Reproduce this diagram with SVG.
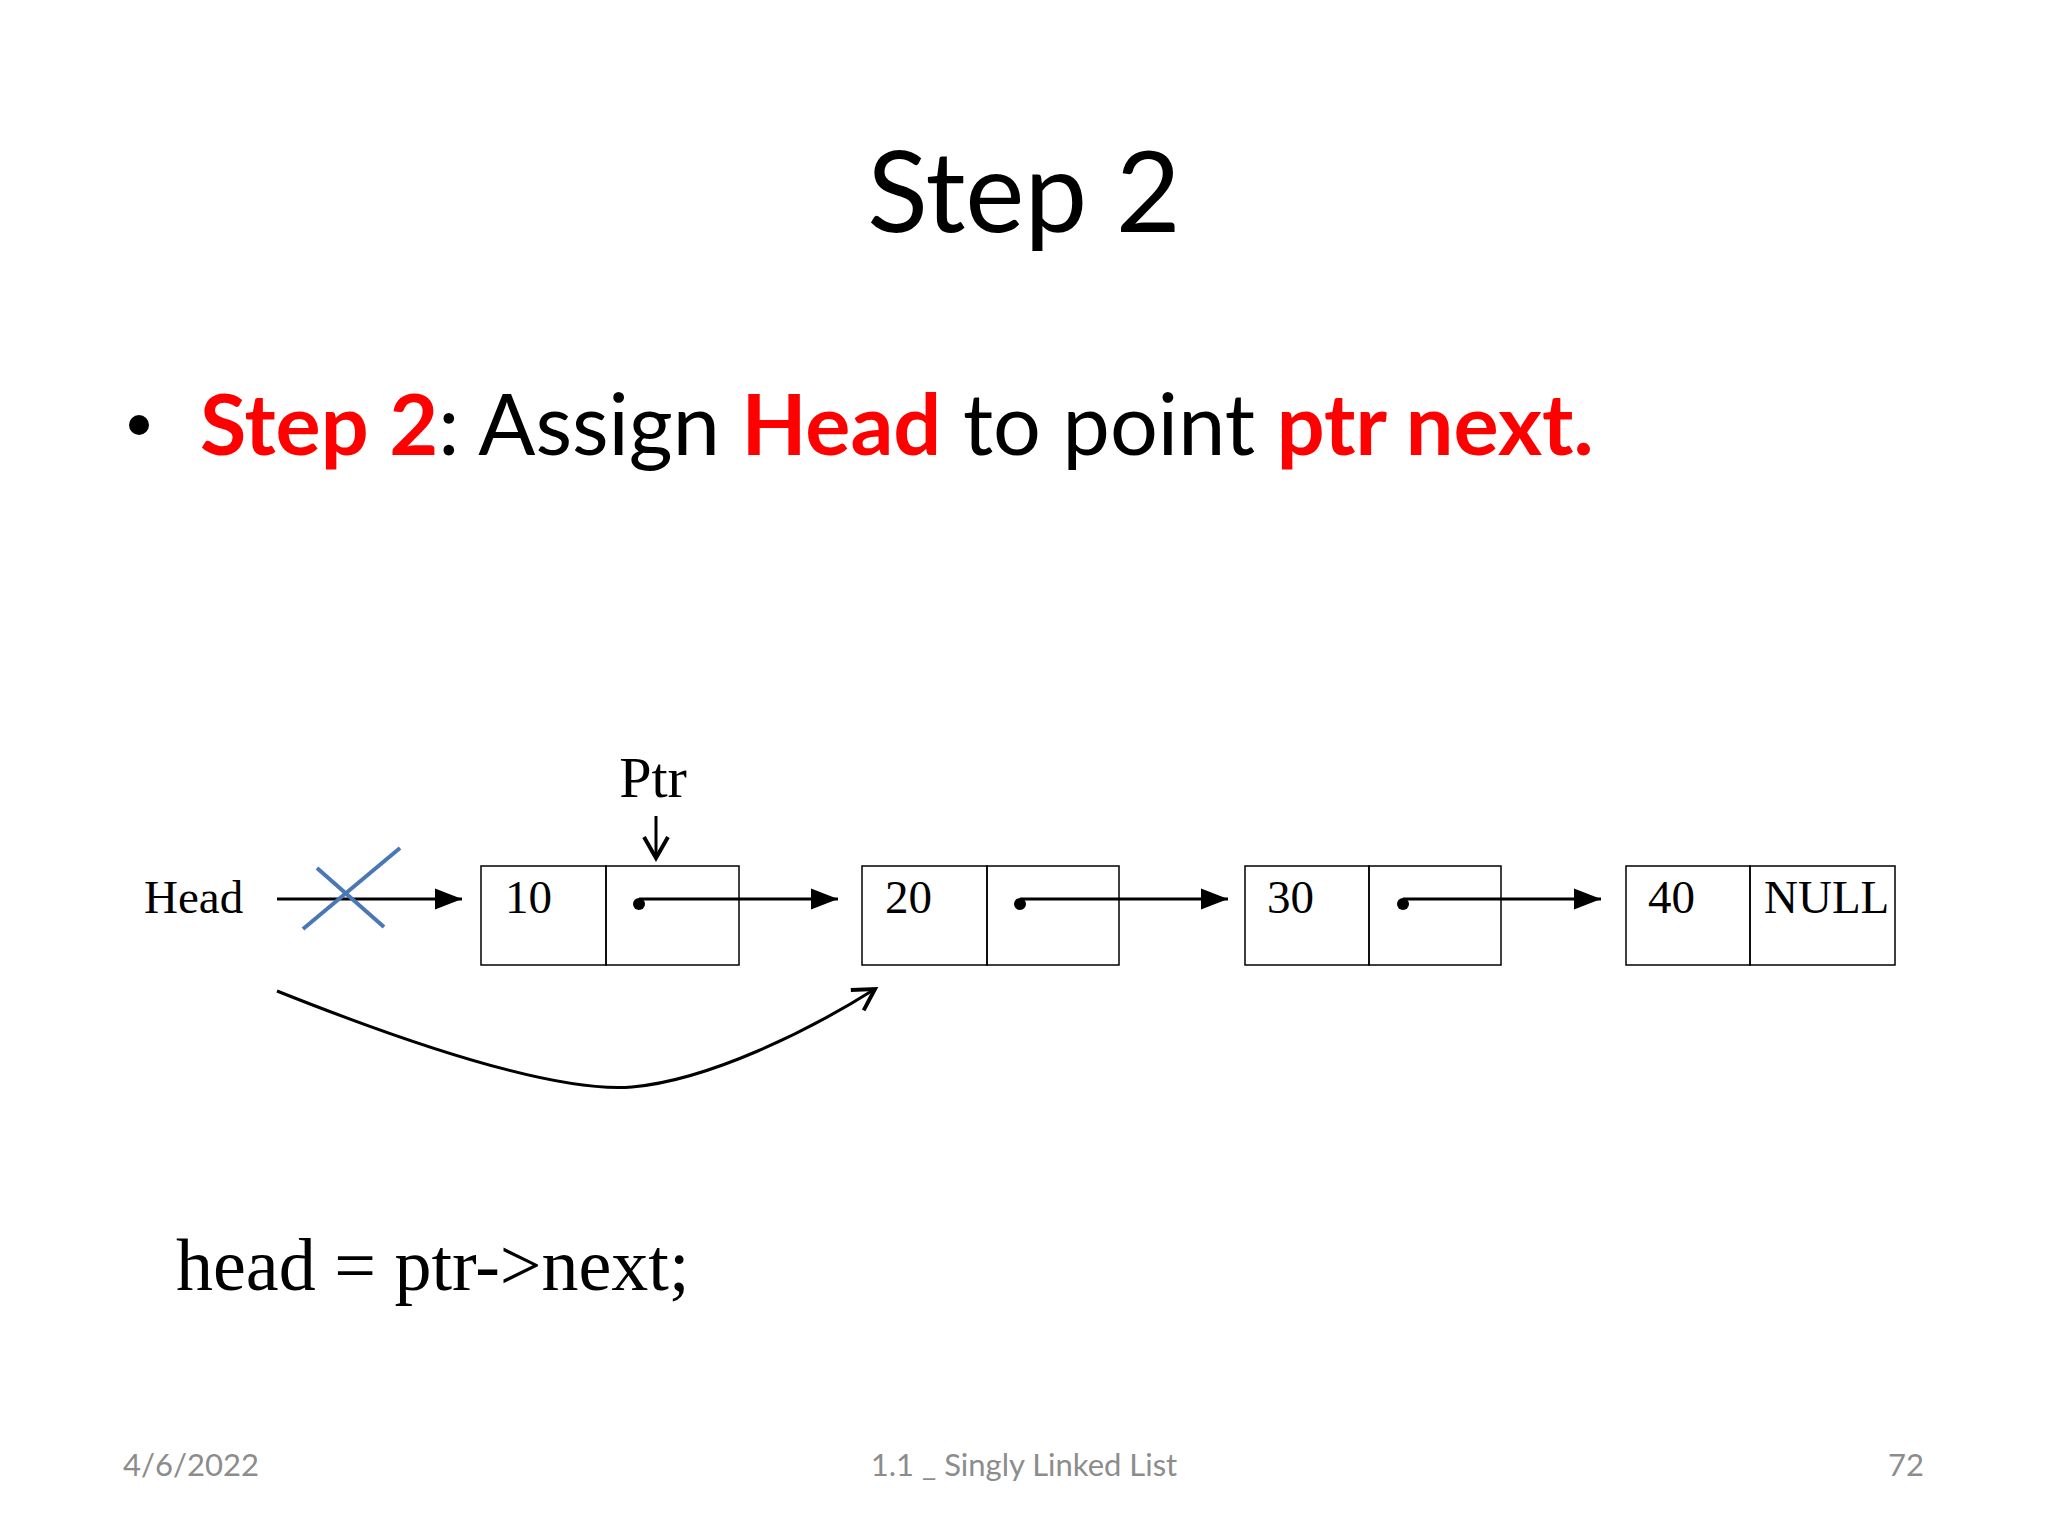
<svg xmlns="http://www.w3.org/2000/svg" width="2048" height="1536" viewBox="0 0 2048 1536">
<style>
.t{font-family:"Times New Roman","Liberation Serif",serif;fill:#000}
.c{font-family:Lato,"Open Sans",sans-serif}
.box{fill:none;stroke:#000;stroke-width:1.5}
.ln{stroke:#000;stroke-width:3;fill:none}
</style>
<defs>
<marker id="ah" markerWidth="10" markerHeight="10" refX="9" refY="5" orient="auto" markerUnits="strokeWidth"><path d="M0,1.5 L9,5 L0,8.5z" fill="#000"/></marker>
<marker id="oh" markerWidth="10" markerHeight="10" refX="8" refY="5" orient="auto" markerUnits="strokeWidth"><path d="M1,1 L8,5 L1,9" fill="none" stroke="#000" stroke-width="1.3"/></marker>
</defs>
<rect width="2048" height="1536" fill="#fff"/>
<text class="c" x="1024" y="232" font-size="112" text-anchor="middle">Step 2</text>
<circle cx="139" cy="425" r="10" fill="#000"/>
<text class="c" x="200" y="455" font-size="84.5"><tspan fill="#f00" font-weight="bold">Step 2</tspan>: Assign <tspan fill="#f00" font-weight="bold">Head</tspan> to point <tspan fill="#f00" font-weight="bold">ptr next.</tspan></text>
<g id="head"><text class="t" x="144" y="913" font-size="47">Head</text></g>
<g id="ptr"><text class="t" x="653" y="797" font-size="58" text-anchor="middle">Ptr</text></g>
<g id="n1"><rect class="box" x="481" y="866" width="125" height="99"/><rect class="box" x="606" y="866" width="133" height="99"/><text class="t" x="505" y="913" font-size="47">10</text><circle cx="639" cy="904" r="6"/></g>
<g id="n2"><rect class="box" x="862" y="866" width="125" height="99"/><rect class="box" x="987" y="866" width="132" height="99"/><text class="t" x="885" y="913" font-size="47">20</text><circle cx="1020" cy="904" r="6"/></g>
<g id="n3"><rect class="box" x="1245" y="866" width="124" height="99"/><rect class="box" x="1369" y="866" width="132" height="99"/><text class="t" x="1267" y="913" font-size="47">30</text><circle cx="1403" cy="904" r="6"/></g>
<g id="n4"><rect class="box" x="1626" y="866" width="124" height="99"/><rect class="box" x="1750" y="866" width="145" height="99"/><text class="t" x="1648" y="913" font-size="47">40</text><text class="t" x="1764" y="913" font-size="47">NULL</text></g>
<g id="connectors">
<line class="ln" x1="277" y1="899" x2="462" y2="899" marker-end="url(#ah)"/>
<line class="ln" x1="639" y1="899" x2="838" y2="899" marker-end="url(#ah)"/>
<line class="ln" x1="1020" y1="899" x2="1228" y2="899" marker-end="url(#ah)"/>
<line class="ln" x1="1403" y1="899" x2="1601" y2="899" marker-end="url(#ah)"/>
<line class="ln" x1="656" y1="816" x2="656" y2="858" stroke-width="4.5" marker-end="url(#oh)"/>
<path class="ln" d="M277 991 C450 1060 570 1092 632 1087 C710 1080 810 1030 875 989" stroke-width="4" marker-end="url(#oh)"/>
<line x1="303" y1="929" x2="400" y2="848" stroke="#4a78b5" stroke-width="4"/>
<line x1="317" y1="868" x2="384" y2="927" stroke="#4a78b5" stroke-width="4"/>
</g>
<text class="t" x="176" y="1290" font-size="74">head = ptr-&gt;next;</text>
<g class="c" font-size="31" fill="#8c8c8c">
<text x="123" y="1476">4/6/2022</text>
<text x="1024" y="1476" text-anchor="middle">1.1 _ Singly Linked List</text>
<text x="1924" y="1476" text-anchor="end">72</text>
</g>
</svg>
